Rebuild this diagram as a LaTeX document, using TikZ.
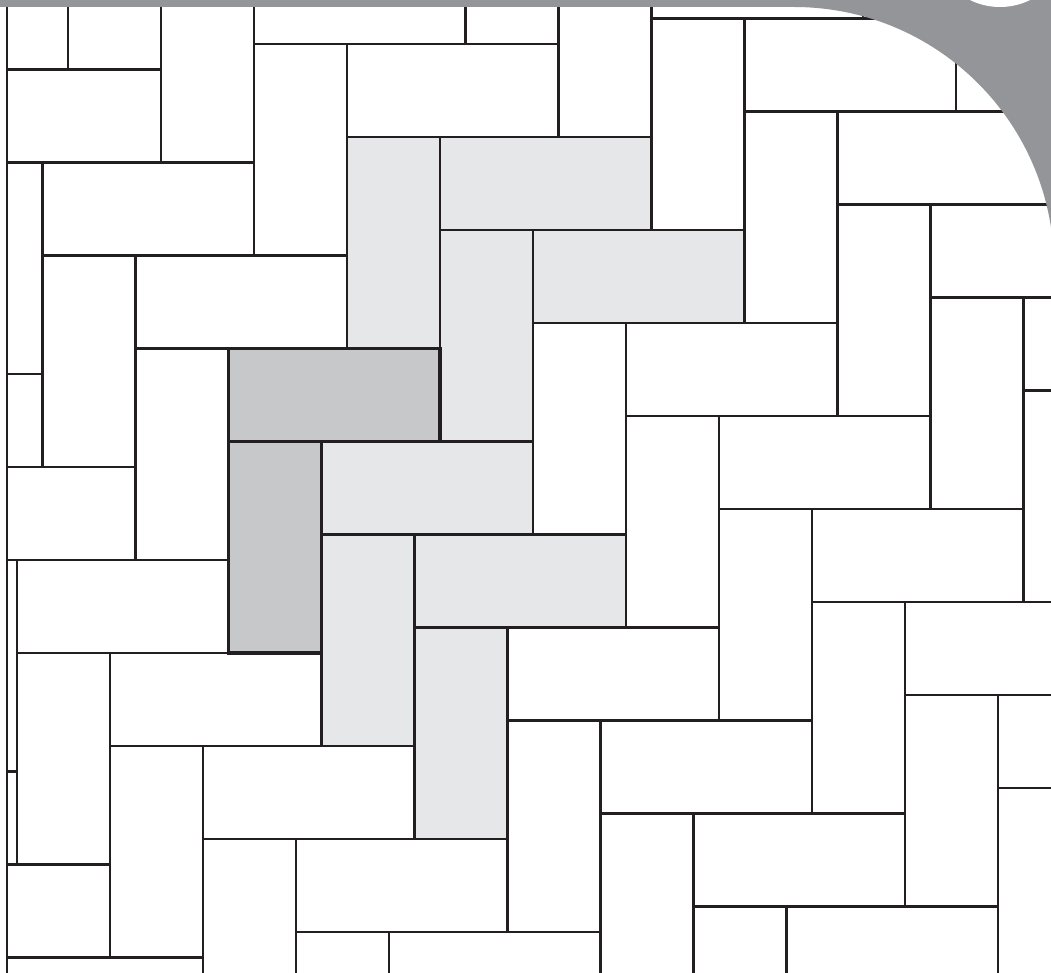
\documentclass[tikz,border=0pt]{standalone}
\definecolor{ink}{HTML}{231F20}
\definecolor{bargray}{HTML}{939598}
\definecolor{lightgray}{HTML}{E6E7E8}
\definecolor{darkgray}{HTML}{C7C8CA}
\newcommand\hbrick[3]{\path[#3] ({440+93*(#1)-211.5*(#2)},{137+93*(#1)+211.5*(#2)}) rectangle ++(211.5,93);}
\newcommand\vbrick[3]{\path[#3] ({440+93*(#1)-211.5*(#2)},{230+93*(#1)+211.5*(#2)}) rectangle ++(93,211.5);}
\begin{document}
\begin{tikzpicture}[x=1pt,y=-1pt,
  brick/.style={draw=ink,line width=2.6pt},
  lightfill/.style={fill=lightgray},
  darkfill/.style={fill=darkgray},
  darkedge/.style={draw=ink,line width=3.4pt},
  bar/.style={fill=bargray}]
\useasboundingbox (0,0) rectangle (1051,973);
\fill[white] (0,0) rectangle (1051,973);
\begin{scope}
  \clip (7,0) rectangle (1051,973);
  % highlighted bricks
  \vbrick{-1}{0}{lightfill}
  \hbrick{0}{0}{lightfill}
  \vbrick{0}{0}{lightfill}
  \hbrick{1}{0}{lightfill}
  \hbrick{1}{1}{lightfill}
  \vbrick{1}{1}{lightfill}
  \hbrick{2}{1}{lightfill}
  \vbrick{2}{1}{lightfill}
  \hbrick{0}{1}{darkfill}
  \vbrick{0}{1}{darkfill}
  % herringbone pattern
  \foreach \i in {-7,...,9}{
    \foreach \j in {-4,...,4}{
      \hbrick{\i}{\j}{brick}
      \vbrick{\i}{\j}{brick}
    }
  }
  \hbrick{0}{1}{darkedge}
  \vbrick{0}{1}{darkedge}
\end{scope}
\draw[ink,line width=2.6pt] (7,6) -- (7,973);
% grey frame
\fill[bar] (0,0) rectangle (1051,7.5);
\begin{scope}
  \clip (794,-1) rectangle (1052,268);
  \fill[bar,even odd rule] (700,-50) rectangle (1100,400) (794,267) circle (260);
\end{scope}
\fill[white] (1000,-61) circle (68);
\end{tikzpicture}
\end{document}
